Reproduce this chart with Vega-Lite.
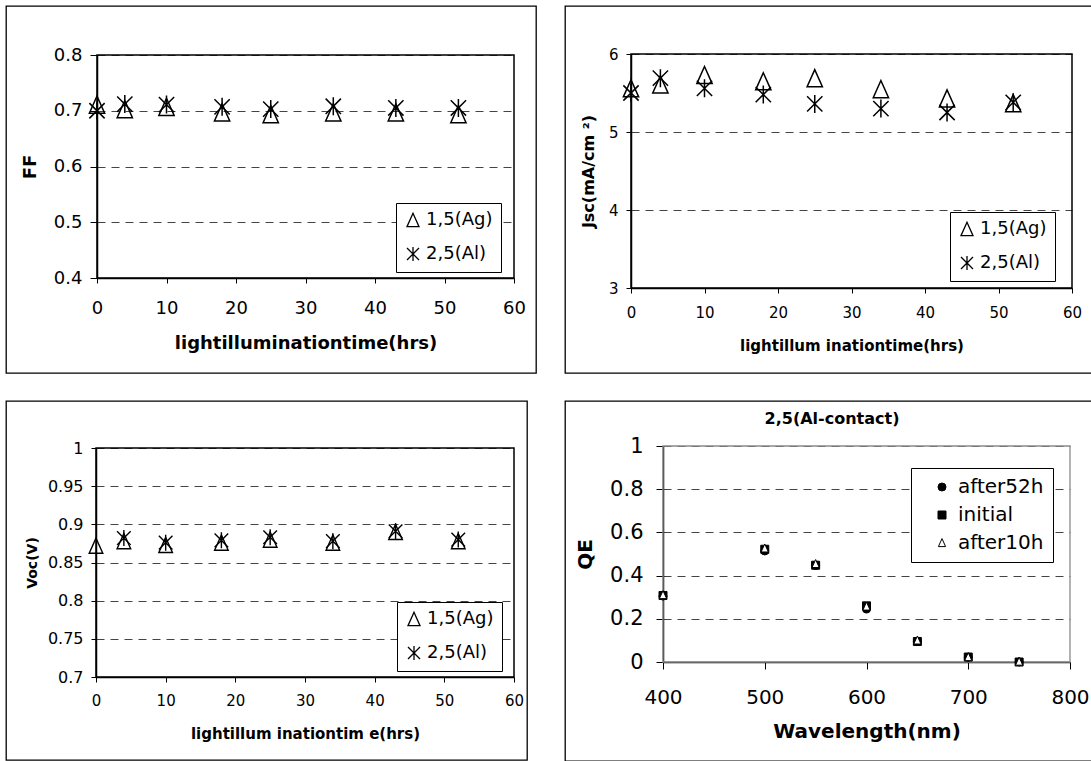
{
  "$schema": "https://vega.github.io/schema/vega-lite/v6.json",
  "padding": {"left": 5, "top": 5, "right": 0, "bottom": 0},
  "background": "white",
  "config": {
    "font": "DejaVu Sans",
    "view": {"stroke": "black", "strokeWidth": 1.3},
    "axis": {
      "labelColor": "black", "titleColor": "black", "domainColor": "black", "tickColor": "black",
      "labelFlush": false, "labelOverlap": false, "labelBound": false,
      "gridColor": "#444444", "gridDash": [8, 6], "gridWidth": 1,
      "titleFontWeight": "bold", "labelFont": "DejaVu Sans", "titleFont": "DejaVu Sans",
      "domainWidth": 1.5, "tickWidth": 1
    },
    "legend": {"strokeColor": "black", "fillColor": "white", "labelColor": "black", "labelFont": "DejaVu Sans"},
    "title": {"font": "DejaVu Sans", "color": "black"}
  },
  "datasets": {
    "ff": [
      {"time": 0, "value": 0.711, "series": "1,5(Ag)"},
      {"time": 4, "value": 0.703, "series": "1,5(Ag)"},
      {"time": 10, "value": 0.707, "series": "1,5(Ag)"},
      {"time": 18, "value": 0.697, "series": "1,5(Ag)"},
      {"time": 25, "value": 0.694, "series": "1,5(Ag)"},
      {"time": 34, "value": 0.697, "series": "1,5(Ag)"},
      {"time": 43, "value": 0.697, "series": "1,5(Ag)"},
      {"time": 52, "value": 0.694, "series": "1,5(Ag)"},
      {"time": 0, "value": 0.700, "series": "2,5(Al)"},
      {"time": 4, "value": 0.712, "series": "2,5(Al)"},
      {"time": 10, "value": 0.711, "series": "2,5(Al)"},
      {"time": 18, "value": 0.707, "series": "2,5(Al)"},
      {"time": 25, "value": 0.703, "series": "2,5(Al)"},
      {"time": 34, "value": 0.708, "series": "2,5(Al)"},
      {"time": 43, "value": 0.705, "series": "2,5(Al)"},
      {"time": 52, "value": 0.705, "series": "2,5(Al)"}
    ],
    "jsc": [
      {"time": 0, "value": 5.56, "series": "1,5(Ag)"},
      {"time": 4, "value": 5.61, "series": "1,5(Ag)"},
      {"time": 10, "value": 5.73, "series": "1,5(Ag)"},
      {"time": 18, "value": 5.65, "series": "1,5(Ag)"},
      {"time": 25, "value": 5.69, "series": "1,5(Ag)"},
      {"time": 34, "value": 5.55, "series": "1,5(Ag)"},
      {"time": 43, "value": 5.43, "series": "1,5(Ag)"},
      {"time": 52, "value": 5.37, "series": "1,5(Ag)"},
      {"time": 0, "value": 5.50, "series": "2,5(Al)"},
      {"time": 4, "value": 5.69, "series": "2,5(Al)"},
      {"time": 10, "value": 5.56, "series": "2,5(Al)"},
      {"time": 18, "value": 5.48, "series": "2,5(Al)"},
      {"time": 25, "value": 5.36, "series": "2,5(Al)"},
      {"time": 34, "value": 5.30, "series": "2,5(Al)"},
      {"time": 43, "value": 5.25, "series": "2,5(Al)"},
      {"time": 52, "value": 5.38, "series": "2,5(Al)"}
    ],
    "voc": [
      {"time": 0, "value": 0.872, "series": "1,5(Ag)"},
      {"time": 4, "value": 0.878, "series": "1,5(Ag)"},
      {"time": 10, "value": 0.873, "series": "1,5(Ag)"},
      {"time": 18, "value": 0.876, "series": "1,5(Ag)"},
      {"time": 25, "value": 0.880, "series": "1,5(Ag)"},
      {"time": 34, "value": 0.876, "series": "1,5(Ag)"},
      {"time": 43, "value": 0.890, "series": "1,5(Ag)"},
      {"time": 52, "value": 0.878, "series": "1,5(Ag)"},
      {"time": 4, "value": 0.882, "series": "2,5(Al)"},
      {"time": 10, "value": 0.876, "series": "2,5(Al)"},
      {"time": 18, "value": 0.879, "series": "2,5(Al)"},
      {"time": 25, "value": 0.883, "series": "2,5(Al)"},
      {"time": 34, "value": 0.878, "series": "2,5(Al)"},
      {"time": 43, "value": 0.891, "series": "2,5(Al)"},
      {"time": 52, "value": 0.880, "series": "2,5(Al)"}
    ],
    "qe": [
      {"wl": 400, "qe": 0.305, "series": "after52h"},
      {"wl": 500, "qe": 0.514, "series": "after52h"},
      {"wl": 550, "qe": 0.447, "series": "after52h"},
      {"wl": 600, "qe": 0.245, "series": "after52h"},
      {"wl": 650, "qe": 0.095, "series": "after52h"},
      {"wl": 700, "qe": 0.022, "series": "after52h"},
      {"wl": 750, "qe": 0.0, "series": "after52h"},
      {"wl": 400, "qe": 0.308, "series": "initial"},
      {"wl": 500, "qe": 0.522, "series": "initial"},
      {"wl": 550, "qe": 0.448, "series": "initial"},
      {"wl": 600, "qe": 0.26, "series": "initial"},
      {"wl": 650, "qe": 0.095, "series": "initial"},
      {"wl": 700, "qe": 0.023, "series": "initial"},
      {"wl": 750, "qe": 0.0, "series": "initial"},
      {"wl": 400, "qe": 0.31, "series": "after10h"},
      {"wl": 500, "qe": 0.526, "series": "after10h"},
      {"wl": 550, "qe": 0.454, "series": "after10h"},
      {"wl": 600, "qe": 0.257, "series": "after10h"},
      {"wl": 650, "qe": 0.1, "series": "after10h"},
      {"wl": 700, "qe": 0.023, "series": "after10h"},
      {"wl": 750, "qe": 0.002, "series": "after10h"}
    ]
  },
  "spacing": 26,
  "resolve": {"scale": {"shape": "independent", "fill": "independent", "stroke": "independent"}, "legend": {"shape": "independent", "fill": "independent", "stroke": "independent"}},
  "vconcat": [
    {
      "spacing": 27,
      "resolve": {"scale": {"shape": "independent", "fill": "independent", "stroke": "independent"}, "legend": {"shape": "independent", "fill": "independent", "stroke": "independent"}},
      "hconcat": [
        {
          "width": 530, "height": 367,
          "layer": [
            {
              "data": {"name": "ff"},
              "mark": {"type": "point", "filled": false, "stroke": "black", "strokeWidth": 1.5, "size": 324, "opacity": 1},
              "encoding": {
                "x": {"field": "time", "type": "quantitative",
                  "scale": {"domain": [0, 60], "range": [91, 508], "nice": false, "zero": false},
                  "axis": {"orient": "bottom", "offset": -95, "values": [0, 10, 20, 30, 40, 50, 60], "format": "d",
                    "tickSize": 5, "labelPadding": 16, "labelFontSize": 18,
                    "title": "lightilluminationtime(hrs)", "titleFontSize": 18, "titlePadding": 17, "grid": false}},
                "y": {"field": "value", "type": "quantitative",
                  "scale": {"domain": [0.4, 0.8], "range": [272, 49], "nice": false, "zero": false},
                  "axis": {"orient": "left", "offset": -91, "values": [0.4, 0.5, 0.6, 0.7, 0.8], "format": "~g",
                    "tickSize": 7, "labelPadding": 8, "labelFontSize": 18,
                    "title": "FF", "titleFontSize": 18, "titlePadding": 14, "grid": true}},
                "shape": {"field": "series", "type": "nominal",
                  "scale": {"domain": ["1,5(Ag)", "2,5(Al)"], "range": ["M0,-0.95L-0.85,0.95L0.85,0.95Z", "M-0.85,-0.85L0.85,0.85M-0.85,0.85L0.85,-0.85M0,-1L0,1"]},
                  "legend": {"title": null, "orient": "none", "legendX": 390, "legendY": 197, "padding": 8,
                    "labelFontSize": 18, "symbolSize": 200, "symbolStrokeColor": "black", "symbolStrokeWidth": 1.3,
                    "symbolFillColor": "transparent", "rowPadding": 14, "labelOffset": 4}}
              }
            },
            {
              "data": {"values": [{}]},
              "mark": {"type": "rect", "filled": false, "stroke": "black", "strokeWidth": 1.5},
              "encoding": {
                "x": {"datum": 0, "type": "quantitative"},
                "x2": {"datum": 60},
                "y": {"datum": 0.4, "type": "quantitative"},
                "y2": {"datum": 0.8}
              }
            }
          ]
        },
        {
          "width": 528, "height": 367,
          "layer": [
            {
              "data": {"name": "jsc"},
              "mark": {"type": "point", "filled": false, "stroke": "black", "strokeWidth": 1.5, "size": 324, "opacity": 1},
              "encoding": {
                "x": {"field": "time", "type": "quantitative",
                  "scale": {"domain": [0, 60], "range": [66, 507], "nice": false, "zero": false},
                  "axis": {"orient": "bottom", "offset": -85, "values": [0, 10, 20, 30, 40, 50, 60], "format": "d",
                    "tickSize": 5, "labelPadding": 12, "labelFontSize": 15,
                    "title": "lightillum inationtime(hrs)", "titleFontSize": 15, "titlePadding": 18, "grid": false}},
                "y": {"field": "value", "type": "quantitative",
                  "scale": {"domain": [3, 6], "range": [282, 48], "nice": false, "zero": false},
                  "axis": {"orient": "left", "offset": -66, "values": [3, 4, 5, 6], "format": "d",
                    "tickSize": 5, "labelPadding": 8, "labelFontSize": 15,
                    "title": "Jsc(mA/cm  ²)", "titleFontSize": 16, "titlePadding": 12, "grid": true}},
                "shape": {"field": "series", "type": "nominal",
                  "scale": {"domain": ["1,5(Ag)", "2,5(Al)"], "range": ["M0,-0.95L-0.85,0.95L0.85,0.95Z", "M-0.85,-0.85L0.85,0.85M-0.85,0.85L0.85,-0.85M0,-1L0,1"]},
                  "legend": {"title": null, "orient": "none", "legendX": 385, "legendY": 206, "padding": 8,
                    "labelFontSize": 18, "symbolSize": 200, "symbolStrokeColor": "black", "symbolStrokeWidth": 1.3,
                    "symbolFillColor": "transparent", "rowPadding": 14, "labelOffset": 4}}
              }
            },
            {
              "data": {"values": [{}]},
              "mark": {"type": "rect", "filled": false, "stroke": "black", "strokeWidth": 1.5},
              "encoding": {
                "x": {"datum": 0, "type": "quantitative"},
                "x2": {"datum": 60},
                "y": {"datum": 3, "type": "quantitative"},
                "y2": {"datum": 6}
              }
            }
          ]
        }
      ]
    },
    {
      "spacing": 36,
      "resolve": {"scale": {"shape": "independent", "fill": "independent", "stroke": "independent"}, "legend": {"shape": "independent", "fill": "independent", "stroke": "independent"}},
      "hconcat": [
        {
          "width": 521, "height": 359,
          "layer": [
            {
              "data": {"name": "voc"},
              "mark": {"type": "point", "filled": false, "stroke": "black", "strokeWidth": 1.4, "size": 256, "opacity": 1},
              "encoding": {
                "x": {"field": "time", "type": "quantitative",
                  "scale": {"domain": [0, 60], "range": [90, 508], "nice": false, "zero": false},
                  "axis": {"orient": "bottom", "offset": -83, "values": [0, 10, 20, 30, 40, 50, 60], "format": "d",
                    "tickSize": 5, "labelPadding": 11, "labelFontSize": 15,
                    "title": "lightillum inationtim e(hrs)", "titleFontSize": 15, "titlePadding": 18, "grid": false}},
                "y": {"field": "value", "type": "quantitative",
                  "scale": {"domain": [0.7, 1], "range": [276, 47], "nice": false, "zero": false},
                  "axis": {"orient": "left", "offset": -90, "values": [0.7, 0.75, 0.8, 0.85, 0.9, 0.95, 1], "format": "~g",
                    "tickSize": 5, "labelPadding": 8, "labelFontSize": 16,
                    "title": "Voc(V)", "titleFontSize": 14, "titlePadding": 8, "grid": true}},
                "shape": {"field": "series", "type": "nominal",
                  "scale": {"domain": ["1,5(Ag)", "2,5(Al)"], "range": ["M0,-0.95L-0.85,0.95L0.85,0.95Z", "M-0.85,-0.85L0.85,0.85M-0.85,0.85L0.85,-0.85M0,-1L0,1"]},
                  "legend": {"title": null, "orient": "none", "legendX": 391, "legendY": 201, "padding": 8,
                    "labelFontSize": 18, "symbolSize": 200, "symbolStrokeColor": "black", "symbolStrokeWidth": 1.3,
                    "symbolFillColor": "transparent", "rowPadding": 14, "labelOffset": 4}}
              }
            },
            {
              "data": {"values": [{}]},
              "mark": {"type": "rect", "filled": false, "stroke": "black", "strokeWidth": 1.5},
              "encoding": {
                "x": {"datum": 0, "type": "quantitative"},
                "x2": {"datum": 60},
                "y": {"datum": 0.7, "type": "quantitative"},
                "y2": {"datum": 1}
              }
            }
          ]
        },
        {
          "width": 528, "height": 360,
          "title": {"text": "2,5(Al-contact)", "fontSize": 16, "fontWeight": "bold", "offset": -26, "anchor": "middle", "dx": 3},
          "layer": [
            {
              "data": {"values": [{}]},
              "mark": {"type": "rect", "filled": false, "stroke": "#8a8a8a", "strokeWidth": 1.3},
              "encoding": {
                "x": {"datum": 400, "type": "quantitative"},
                "x2": {"datum": 800},
                "y": {"datum": 0, "type": "quantitative"},
                "y2": {"datum": 1}
              }
            },
            {
              "data": {"name": "qe"},
              "mark": {"type": "point", "strokeWidth": 1, "opacity": 1, "size": 64},
              "encoding": {
                "x": {"field": "wl", "type": "quantitative",
                  "scale": {"domain": [400, 800], "range": [98, 505], "nice": false, "zero": false},
                  "axis": {"orient": "bottom", "offset": -99, "values": [400, 500, 600, 700, 800], "format": "d",
                    "tickSize": 7, "labelPadding": 18, "labelFontSize": 20,
                    "title": "Wavelength(nm)", "titleFontSize": 20, "titlePadding": 14, "grid": false}},
                "y": {"field": "qe", "type": "quantitative",
                  "scale": {"domain": [0, 1], "range": [261, 45], "nice": false, "zero": false},
                  "axis": {"orient": "left", "offset": -98, "values": [0, 0.2, 0.4, 0.6, 0.8, 1], "format": "~g",
                    "tickSize": 7, "labelPadding": 13, "labelFontSize": 21,
                    "title": "QE", "titleFontSize": 20, "titlePadding": 14, "grid": true}},
                "shape": {"field": "series", "type": "nominal",
                  "scale": {"domain": ["after52h", "initial", "after10h"], "range": ["circle", "square", "M0,-1.1L-0.9,0.9L0.9,0.9Z"]},
                  "legend": {"title": null, "orient": "none", "legendX": 346, "legendY": 67, "padding": 9,
                    "labelFontSize": 20, "symbolSize": 64, "symbolStrokeWidth": 1,
                    "rowPadding": 8, "labelOffset": 6, "symbolOffset": 12}},
                "fill": {"field": "series", "type": "nominal",
                  "scale": {"domain": ["after52h", "initial", "after10h"], "range": ["black", "black", "white"]},
                  "legend": {"title": null, "orient": "none", "legendX": 346, "legendY": 67, "padding": 9,
                    "labelFontSize": 20, "symbolSize": 64, "symbolStrokeWidth": 1,
                    "rowPadding": 8, "labelOffset": 6, "symbolOffset": 12}},
                "stroke": {"field": "series", "type": "nominal",
                  "scale": {"domain": ["after52h", "initial", "after10h"], "range": ["black", "black", "black"]},
                  "legend": {"title": null, "orient": "none", "legendX": 346, "legendY": 67, "padding": 9,
                    "labelFontSize": 20, "symbolSize": 64, "symbolStrokeWidth": 1,
                    "rowPadding": 8, "labelOffset": 6, "symbolOffset": 12}}
              }
            }
          ]
        }
      ]
    }
  ]
}
